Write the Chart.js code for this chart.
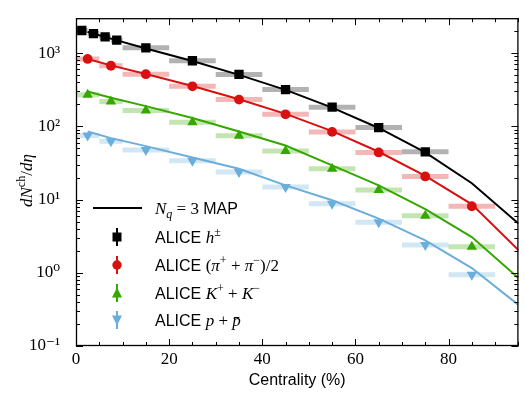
<!DOCTYPE html>
<html>
<head>
<meta charset="utf-8">
<script src="https://cdn.jsdelivr.net/npm/chart.js"></script>
<style>
  body { margin: 0; background: #fff; }
  #wrap { width: 525px; height: 393px; }
</style>
</head>
<body>
<div id="wrap"><canvas id="chart" width="525" height="393"></canvas></div>
<script>
// ALICE data (bin centres, bin edges, values)
const hX = [1.25, 3.75, 6.25, 8.75, 15, 25, 35, 45, 55, 65, 75];
const hLo = [0, 2.5, 5, 7.5, 10, 20, 30, 40, 50, 60, 70];
const hHi = [2.5, 5, 7.5, 10, 20, 30, 40, 50, 60, 70, 80];
const hY = [2035, 1850, 1666, 1505, 1180, 786, 512, 318, 183, 96.3, 44.9];

const idX = [2.5, 7.5, 15, 25, 35, 45, 55, 65, 75, 85];
const idLo = [0, 5, 10, 20, 30, 40, 50, 60, 70, 80];
const idHi = [5, 10, 20, 30, 40, 50, 60, 70, 80, 90];
const piY = [833, 673, 516, 352, 232, 146, 84, 44, 20.7, 8.1];
const kY = [270, 218, 164, 114, 74.5, 46, 26.4, 13.5, 6.0, 2.26];
const pY = [75, 62.5, 47.5, 34, 23.8, 14.8, 8.8, 4.9, 2.4, 0.94];

// N_q = 3 MAP model curves
const modelX = [2.5, 7.5, 15, 25, 35, 45, 55, 65, 75, 85, 95];
const modelH = [1940, 1580, 1160, 780, 505, 315, 180, 95, 44, 16.7, 4.7];
const modelPi = [830, 680, 520, 355, 235, 148, 86, 45, 21, 8.6, 2.05];
const modelK = [300, 246, 189, 130, 85, 54.8, 29.3, 15.6, 7.4, 3.07, 0.85];
const modelP = [85, 69, 53.7, 37.6, 26.4, 15.6, 9.8, 5.5, 2.77, 1.16, 0.364];

const xTicks = [0, 20, 40, 60, 80];

const colH = '#000000', colPi = '#d81010', colK = '#35a800', colP = '#6aaedc';
const barH = 'rgba(0,0,0,0.3)', barPi = 'rgba(216,16,16,0.3)', barK = 'rgba(53,168,0,0.3)', barP = 'rgba(106,174,220,0.3)';

const SERIF = '"Liberation Serif", "DejaVu Serif", serif';
const SANS = '"Liberation Sans", "DejaVu Sans", sans-serif';

function pts(xs, ys) {
    return xs.map((x, i) => ({ x: x, y: ys[i] }));
}

// horizontal bin-width bars, broken by null points
function bins(lo, hi, ys) {
    const out = [];
    ys.forEach((y, i) => {
        out.push({ x: lo[i], y: y }, { x: hi[i], y: y }, { x: hi[i], y: null });
    });
    return out;
}

function markerSet(data, color, style, radius, rotation) {
    return {
        data: data, showLine: false, order: 0,
        pointStyle: style, pointRadius: radius, pointRotation: rotation || 0,
        pointBackgroundColor: color, pointBorderColor: color, pointBorderWidth: 0
    };
}

function lineSet(data, color) {
    return { data: data, showLine: true, borderColor: color, borderWidth: 2, pointRadius: 0, order: 1, tension: 0 };
}

function barSet(data, color) {
    return { data: data, showLine: true, spanGaps: false, borderColor: color, borderWidth: 5, pointRadius: 0, order: 2, borderCapStyle: 'butt' };
}

// inner ticks, frame, y title and legend
const decorPlugin = {
    id: 'decor',
    afterDraw(chart) {
        const ctx = chart.ctx;
        const a = chart.chartArea;
        const xs = chart.scales.x, ys = chart.scales.y;
        ctx.save();
        ctx.strokeStyle = '#000';
        ctx.lineWidth = 1;
        ctx.beginPath();
        for (let v = 0; v <= 95; v += 5) {
            const px = Math.round(xs.getPixelForValue(v)) + 0.5;
            const len = v % 20 === 0 ? 7 : 4;
            ctx.moveTo(px, a.bottom); ctx.lineTo(px, a.bottom - len);
            ctx.moveTo(px, a.top); ctx.lineTo(px, a.top + len);
        }
        for (let e = -1; e <= 3; e++) {
            for (let m = 1; m <= 9; m++) {
                const v = m * Math.pow(10, e);
                if (v > ys.max * 1.0001) continue;
                const py = Math.round(ys.getPixelForValue(v)) + 0.5;
                const len = m === 1 ? 7 : 4;
                ctx.moveTo(a.left, py); ctx.lineTo(a.left + len, py);
                ctx.moveTo(a.right, py); ctx.lineTo(a.right - len, py);
            }
        }
        ctx.stroke();
        ctx.lineWidth = 1.3;
        ctx.strokeRect(a.left + 0.5, a.top + 0.5, a.right - a.left - 1, a.bottom - a.top - 1);

        // y title: dN^ch/dη
        ctx.translate(32, 174);
        ctx.rotate(-Math.PI / 2);
        ctx.fillStyle = '#000';
        ctx.textBaseline = 'alphabetic';
        drawRuns(ctx, -33, 0, [
            ['dN', 'italic 17px ' + SERIF, 0],
            ['ch', '12px ' + SERIF, -7],
            ['/', '17px ' + SERIF, 0],
            ['dη', 'italic 17px ' + SERIF, 0]
        ]);
        ctx.restore();

        // legend
        ctx.save();
        ctx.fillStyle = '#000';
        const lx = 117, tx = 155;
        const rowY = [208, 237, 265, 293, 320];
        ctx.strokeStyle = colH;
        ctx.lineWidth = 2;
        ctx.beginPath(); ctx.moveTo(93, rowY[0]); ctx.lineTo(142, rowY[0]); ctx.stroke();
        drawRuns(ctx, tx, rowY[0] + 6, [
            ['N', 'italic 17px ' + SERIF, 0],
            ['q', 'italic 12px ' + SERIF, 4],
            [' = 3 ', '17px ' + SERIF, 0],
            ['MAP', '16px ' + SANS, 0]
        ]);
        const marks = [[colH, 'rect'], [colPi, 'circle'], [colK, 'tri'], [colP, 'tridown']];
        marks.forEach((mk, i) => {
            const y = rowY[i + 1];
            ctx.strokeStyle = mk[0];
            ctx.fillStyle = mk[0];
            ctx.lineWidth = 2;
            ctx.beginPath(); ctx.moveTo(lx, y - 9); ctx.lineTo(lx, y + 9); ctx.stroke();
            ctx.beginPath();
            if (mk[1] === 'rect') ctx.rect(lx - 4.5, y - 4.5, 9, 9);
            else if (mk[1] === 'circle') ctx.arc(lx, y, 4.7, 0, Math.PI * 2);
            else if (mk[1] === 'tri') { ctx.moveTo(lx, y - 5.5); ctx.lineTo(lx + 5, y + 4.5); ctx.lineTo(lx - 5, y + 4.5); }
            else { ctx.moveTo(lx, y + 5.5); ctx.lineTo(lx + 5, y - 4.5); ctx.lineTo(lx - 5, y - 4.5); }
            ctx.fill();
        });
        ctx.fillStyle = '#000';
        const alice = ['ALICE ', '16px ' + SANS, 0];
        drawRuns(ctx, tx, rowY[1] + 6, [alice, ['h', 'italic 17px ' + SERIF, 0], ['±', '12px ' + SERIF, -7]]);
        drawRuns(ctx, tx, rowY[2] + 6, [alice, ['(', '17px ' + SERIF, 0], ['π', 'italic 17px ' + SERIF, 0], ['+', '12px ' + SERIF, -7],
            [' + ', '17px ' + SERIF, 0], ['π', 'italic 17px ' + SERIF, 0], ['−', '12px ' + SERIF, -7], [')/2', '17px ' + SERIF, 0]]);
        drawRuns(ctx, tx, rowY[3] + 6, [alice, ['K', 'italic 17px ' + SERIF, 0], ['+', '12px ' + SERIF, -7],
            [' + ', '17px ' + SERIF, 0], ['K', 'italic 17px ' + SERIF, 0], ['−', '12px ' + SERIF, -7]]);
        drawRuns(ctx, tx, rowY[4] + 6, [alice, ['p', 'italic 17px ' + SERIF, 0], [' + ', '17px ' + SERIF, 0], ['p\u0304', 'italic 17px ' + SERIF, 0]]);
        ctx.restore();
    }
};

function drawRuns(ctx, x, y, runs) {
    runs.forEach(r => {
        ctx.font = r[1];
        ctx.fillText(r[0], x, y + r[2]);
        x += ctx.measureText(r[0]).width;
    });
}

new Chart(document.getElementById('chart'), {
    type: 'scatter',
    data: {
        datasets: [
            markerSet(pts(hX, hY), colH, 'rect', 6.6),
            markerSet(pts(idX, piY), colPi, 'circle', 4.9),
            markerSet(pts(idX, kY), colK, 'triangle', 6),
            markerSet(pts(idX, pY), colP, 'triangle', 6, 180),
            lineSet(pts(modelX, modelH), colH),
            lineSet(pts(modelX, modelPi), colPi),
            lineSet(pts(modelX, modelK), colK),
            lineSet(pts(modelX, modelP), colP),
            barSet(bins(hLo, hHi, hY), barH),
            barSet(bins(idLo, idHi, piY), barPi),
            barSet(bins(idLo, idHi, kY), barK),
            barSet(bins(idLo, idHi, pY), barP)
        ]
    },
    options: {
        responsive: false,
        animation: false,
        events: [],
        layout: { padding: { top: 9, right: 1, left: 0, bottom: 0 } },
        plugins: { legend: { display: false }, tooltip: { enabled: false } },
        scales: {
            x: {
                type: 'linear', min: 0, max: 95,
                grid: { display: false },
                border: { display: false },
                afterFit(scale) { scale.height = 47; },
                afterBuildTicks(scale) { scale.ticks = xTicks.map(v => ({ value: v })); },
                ticks: { color: '#000', font: { family: SERIF, size: 17, lineHeight: 1 }, padding: -3, maxRotation: 0 },
                title: { display: true, text: 'Centrality (%)', color: '#000', font: { family: SANS, size: 16, lineHeight: 1 }, padding: { top: 0, bottom: 4 } }
            },
            y: {
                type: 'logarithmic', min: 0.1, max: 3000,
                grid: { display: false },
                border: { display: false },
                afterFit(scale) { scale.width = 76; },
                afterBuildTicks(scale) { scale.ticks = [-1, 0, 1, 2, 3].map(e => ({ value: Math.pow(10, e) })); },
                ticks: {
                    color: '#000', font: { family: SERIF, size: 17 }, padding: 8, autoSkip: false,
                    callback: (v) => {
                        const sup = { '-1': '⁻¹', '0': '⁰', '1': '¹', '2': '²', '3': '³' };
                        return '10' + sup[String(Math.round(Math.log10(v)))];
                    }
                }
            }
        }
    },
    plugins: [decorPlugin]
});
</script>
</body>
</html>
